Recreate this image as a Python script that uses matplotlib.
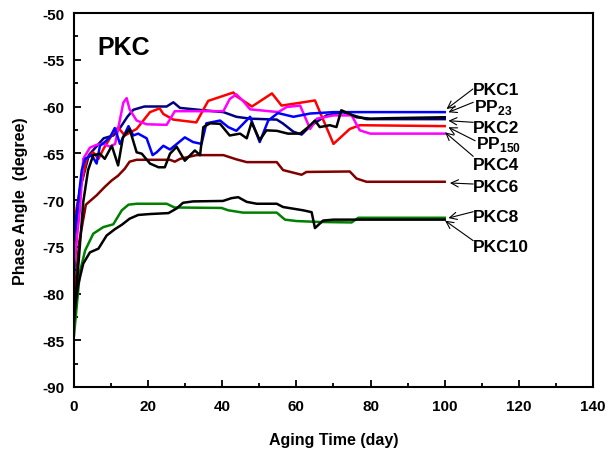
import matplotlib.pyplot as plt
from matplotlib.ticker import MultipleLocator

plt.rcParams['font.family'] = ['Liberation Sans', 'DejaVu Sans']
plt.rcParams['font.weight'] = 'bold'
plt.rcParams['axes.unicode_minus'] = False
plt.rcParams['mathtext.fontset'] = 'custom'
plt.rcParams['mathtext.rm'] = 'Liberation Sans:bold'
plt.rcParams['mathtext.bf'] = 'Liberation Sans:bold'

# aging time (day) / phase angle (degree)
blue_t = [0, 2.1, 3, 4.8, 6.1, 7, 8.3, 9.7, 11, 12.4, 14.7, 16, 17.3, 19.6, 21.2, 22.3, 24.1, 25.9,
          29.9, 32.1, 34.4, 35.7, 39.4, 41.6, 43.8, 47.5, 50.1, 52.4, 55, 59.2, 63.7, 70, 100]
blue_v = [-74, -66.8, -65.6, -65.2, -66.1, -64.2, -63.8, -63.3, -62.3, -64.0, -62.1, -63.1, -62.9, -63.4,
          -65.2, -64.9, -64.2, -64.6, -63.3, -63.8, -64.0, -61.8, -61.5, -62.2, -62.6, -61.1, -63.8, -61.5,
          -60.7, -61.1, -60.75, -60.6, -60.6]

navy_t = [0, 1.5, 4, 8, 10.6, 12.4, 14.4, 16, 19, 25, 26.8, 28.6, 34.9, 40.3, 43.8, 47.5, 54.7, 56.3,
          59.2, 61.4, 63.7, 68.1, 72.6, 75.3, 78.9, 100]
navy_v = [-78, -69, -65.2, -63.4, -63.1, -62.3, -61.1, -60.35, -60.0, -60.0, -59.55, -60.15, -60.4, -60.6,
          -61.1, -61.3, -61.4, -61.8, -62.7, -63.0, -62.1, -60.95, -60.6, -60.95, -61.35, -61.35]

black2_t = [0, 2.5, 3.8, 5.2, 7, 8.3, 10.2, 11.9, 13.2, 15, 16.9, 18.3, 20.5, 22.8, 24.5, 25.9, 27.7,
            29.9, 32.6, 34, 34.9, 36.7, 39.4, 42, 44.8, 46.6, 47.9, 50.1, 51.9, 54.7, 57.7, 61, 63.2, 65,
            66.3, 69, 70.8, 72.1, 74.4, 76.2, 79.9, 84.6, 100]
black2_v = [-83, -70.2, -66.8, -65.2, -65.05, -65.6, -64.2, -66.3, -63.3, -62.4, -64.9, -65.05, -66.1,
            -66.5, -66.5, -65.05, -64.3, -65.8, -64.7, -65.2, -62.2, -61.8, -61.85, -63.1, -62.9, -63.4,
            -61.7, -63.6, -62.55, -62.6, -62.9, -62.9, -62.2, -61.5, -62.2, -62.0, -62.2, -60.4, -60.8,
            -61.15, -61.3, -61.25, -61.15]

red_t = [0, 1.1, 3.4, 5.2, 6.6, 8, 10.6, 11.9, 13.7, 16.9, 20.5, 23.1, 24.1, 26.8, 33, 36.2, 43, 43.8,
         46.5, 48, 53.4, 56, 61, 65, 70, 74.4, 77.1, 100]
red_v = [-72.5, -70, -65.6, -64.9, -65.6, -64.5, -62.8, -62.25, -63.1, -62.4, -60.6, -60.2, -60.8, -61.4,
         -61.7, -59.4, -58.5, -58.9, -59.6, -60.0, -58.6, -59.9, -59.6, -59.35, -64.0, -62.4, -62.0, -62.1]

mag_t = [0, 1.6, 2.5, 4.3, 6.1, 7.9, 9.7, 11.1, 12.4, 13.3, 14.2, 15, 16.9, 19.6, 25, 27.2, 40.3, 42,
         43.8, 45.6, 47.5, 55.1, 57.4, 61, 63.7, 65.5, 70, 74.9, 77.1, 79.9, 100]
mag_v = [-77, -71, -65.6, -64.4, -64.1, -64.0, -64.3, -64.0, -61.4, -59.6, -59.1, -60.3, -61.5, -61.9,
         -61.96, -60.5, -60.5, -59.2, -58.7, -59.4, -60.3, -60.6, -60.05, -59.9, -62.4, -61.3, -60.95,
         -60.95, -62.55, -62.9, -62.9]

dred_t = [0, 1.4, 3.2, 4.5, 6.1, 8.3, 10.2, 11.9, 13.7, 15, 16.9, 25.9, 27.2, 28.6, 33, 40.3, 43.8, 46.6,
          54.7, 56.4, 61.4, 62.7, 74.4, 76.2, 78.9, 100]
dred_v = [-81, -74.5, -70.5, -70.05, -69.5, -68.6, -67.9, -67.4, -66.65, -65.9, -65.7, -65.7, -65.9, -65.6,
          -65.2, -65.2, -65.65, -65.95, -65.95, -66.8, -67.3, -67.0, -66.95, -67.7, -68.05, -68.05]

green_t = [0, 1.6, 3, 5.2, 7.9, 10.6, 12.9, 14.7, 16.9, 25, 27.1, 39.8, 41.6, 45.6, 54.7, 56.9, 60, 66.3,
           74.9, 76.7, 100]
green_v = [-84.5, -77.7, -75.4, -73.6, -72.9, -72.6, -71.1, -70.5, -70.4, -70.4, -70.8, -70.85, -71.1,
           -71.35, -71.35, -72.1, -72.25, -72.35, -72.4, -71.9, -71.9]

black10_t = [0, 1.1, 2.5, 4.3, 6.6, 8.8, 11.1, 12.9, 15, 17.3, 20.5, 25.5, 27.7, 29.4, 32.1, 40.2, 42.5,
             44.3, 46.6, 49.3, 54.7, 56.4, 61.8, 64.1, 65, 67.2, 70, 100]
black10_v = [-82.3, -79.1, -76.8, -75.6, -75.2, -73.8, -73.1, -72.65, -72.0, -71.6, -71.5, -71.4, -70.9,
             -70.3, -70.15, -70.1, -69.8, -69.7, -70.2, -70.4, -70.4, -70.75, -71.1, -71.3, -73.0, -72.2,
             -72.1, -72.1]

labels = ['PKC1', r'PP$_{23}$', 'PKC2', r'PP$_{150}$', 'PKC4', 'PKC6', 'PKC8', 'PKC10']
# label baseline (x, y) and arrow tail -> tip, in data units
label_pos = [(107.6, -58.63), (107.8, -60.43), (107.6, -62.73), (108.4, -64.44), (107.6, -66.68),
             (107.6, -69.0), (107.6, -72.21), (107.6, -75.42)]
arrow_tail = [(107.6, -58.13), (107.7, -59.55), (107.7, -61.69), (108.2, -63.66), (107.7, -65.33),
              (107.7, -68.29), (107.7, -71.25), (107.7, -74.35)]
arrow_tip = [(100.5, -60.27), (101.0, -60.62), (101.0, -61.52), (101.0, -62.22), (100.1, -62.76),
             (101.4, -68.18), (101.0, -71.93), (100.1, -72.21)]

fig = plt.figure(figsize=(6.08, 4.52), dpi=100)
ax = fig.add_axes([0.1217, 0.1416, 0.8536, 0.8274])

lw = 1.8
ax.plot(dred_t, dred_v, color='#800000', lw=lw)
ax.plot(green_t, green_v, color='#008000', lw=lw)
ax.plot(black10_t, black10_v, color='black', lw=lw)
ax.plot(navy_t, navy_v, color='#000080', lw=lw)
ax.plot(red_t, red_v, color='#ff0000', lw=lw)
ax.plot(mag_t, mag_v, color='#ff00ff', lw=lw)
ax.plot(blue_t, blue_v, color='#0000ff', lw=lw)
ax.plot(black2_t, black2_v, color='black', lw=lw)

for lab, pos, tail, tip in zip(labels, label_pos, arrow_tail, arrow_tip):
    ax.text(pos[0], pos[1], lab, fontsize=12.5, fontweight='bold', ha='left', va='baseline')
    ax.annotate('', xy=tip, xytext=tail,
                arrowprops=dict(arrowstyle='->', lw=0.8, color='black', shrinkA=0, shrinkB=0,
                                mutation_scale=13))

ax.text(6.2, -54.4, 'PKC', fontsize=18, fontweight='bold', ha='left', va='baseline')

ax.set_xlim(0, 140)
ax.set_ylim(-90, -50)
ax.xaxis.set_major_locator(MultipleLocator(20))
ax.xaxis.set_minor_locator(MultipleLocator(10))
ax.yaxis.set_major_locator(MultipleLocator(5))
ax.yaxis.set_minor_locator(MultipleLocator(2.5))
ax.tick_params(which='both', direction='in', width=1.3, labelsize=11)
ax.tick_params(which='major', length=5)
ax.tick_params(which='minor', length=3)
ax.tick_params(axis='x', which='major', pad=9)
ax.tick_params(axis='y', which='major', pad=7)
for lbl in ax.get_xticklabels() + ax.get_yticklabels():
    lbl.set_fontweight('bold')
for sp in ax.spines.values():
    sp.set_linewidth(1.5)

ax.set_xlabel('Aging Time (day)', fontsize=11.5, fontweight='bold', labelpad=13)
ax.set_ylabel('Phase Angle  (degree)', fontsize=11.5, fontweight='bold', labelpad=10)

plt.savefig('out.png', dpi=100)
